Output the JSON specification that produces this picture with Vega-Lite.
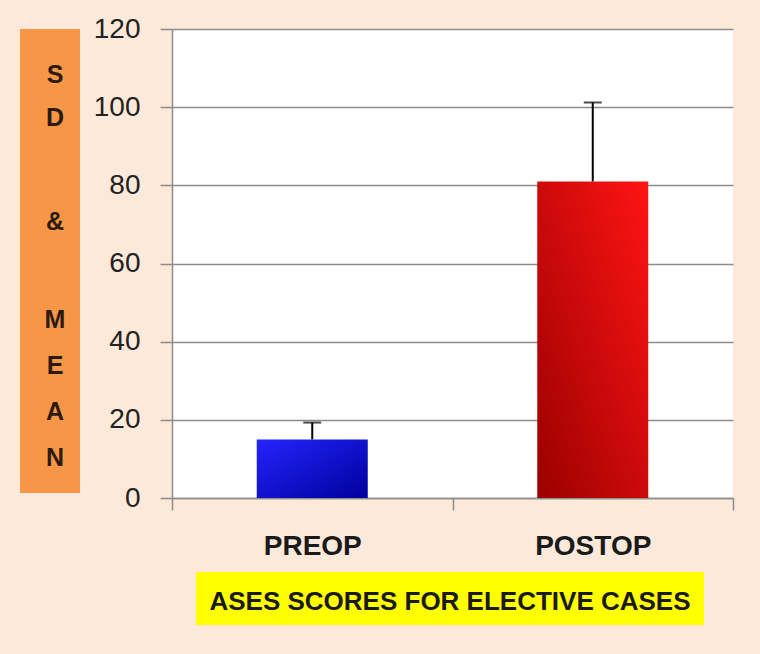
{
  "$schema": "https://vega.github.io/schema/vega-lite/v6.json",
  "background": "#FDE9D9",
  "padding": {"left": 20, "top": 15, "right": 27, "bottom": 29},
  "config": {
    "view": {"stroke": null},
    "font": "Liberation Sans"
  },
  "datasets": {
    "scores": [
      {"group": "PREOP", "mean": 15, "upper": 19.3},
      {"group": "POSTOP", "mean": 81, "upper": 101.2}
    ],
    "ytitle": [
      {"part": "sd", "label": "S\nD"},
      {"part": "amp", "label": "&"},
      {"part": "mean", "label": "M\nE\nA\nN"}
    ],
    "xtitle": [{"label": "ASES SCORES FOR ELECTIVE CASES"}]
  },
  "vconcat": [
    {
      "hconcat": [
        {
          "width": 60,
          "height": 464,
          "view": {"fill": "#F79646", "stroke": null},
          "data": {"name": "ytitle"},
          "encoding": {"text": {"field": "label"}},
          "layer": [
            {
              "transform": [{"filter": "datum.part === 'sd'"}],
              "mark": {"type": "text", "lineBreak": "\n", "lineHeight": 43, "fontSize": 25, "fontWeight": "bold", "color": "#2B1B0E", "dx": 5, "dy": -186}
            },
            {
              "transform": [{"filter": "datum.part === 'amp'"}],
              "mark": {"type": "text", "fontSize": 25, "fontWeight": "bold", "color": "#2B1B0E", "dx": 5, "dy": -39}
            },
            {
              "transform": [{"filter": "datum.part === 'mean'"}],
              "mark": {"type": "text", "lineBreak": "\n", "lineHeight": 46, "fontSize": 25, "fontWeight": "bold", "color": "#2B1B0E", "dx": 5, "dy": 59}
            }
          ]
        },
        {
          "width": 561,
          "height": 469,
          "view": {"fill": "#FFFFFF", "stroke": null},
          "data": {"name": "scores"},
          "encoding": {
            "x": {
              "field": "group", "type": "nominal", "sort": ["PREOP", "POSTOP"],
              "scale": {"paddingInner": 0, "paddingOuter": 0},
              "axis": {
                "title": null, "labelAngle": 0, "labelFontSize": 28, "labelFontWeight": "bold",
                "labelColor": "#1A1A1A", "labelPadding": 22, "tickBand": "extent", "tickSize": 12,
                "tickColor": "#8C8C8C", "tickWidth": 1.5, "domainColor": "#8C8C8C", "domainWidth": 1.5
              }
            }
          },
          "layer": [
            {
              "transform": [{"filter": "datum.group === 'PREOP'"}],
              "mark": {"type": "bar", "size": 111, "color": {"gradient": "linear", "x1": 0, "y1": 0, "x2": 1, "y2": 1, "stops": [{"offset": 0, "color": "#2424FF"}, {"offset": 1, "color": "#00009C"}]}},
              "encoding": {
                "y": {
                  "field": "mean", "type": "quantitative",
                  "scale": {"domain": [0, 120], "nice": false},
                  "axis": {
                    "title": null, "values": [0, 20, 40, 60, 80, 100, 120], "labelFontSize": 28,
                    "labelColor": "#222222", "labelPadding": 20, "tickSize": 12, "tickColor": "#8C8C8C",
                    "tickWidth": 1.5, "domainColor": "#8C8C8C", "domainWidth": 1.5,
                    "gridColor": "#8C8C8C", "gridWidth": 1.5, "labelFlush": false
                  }
                }
              }
            },
            {
              "transform": [{"filter": "datum.group === 'POSTOP'"}],
              "mark": {"type": "bar", "size": 111, "color": {"gradient": "linear", "x1": 0, "y1": 1, "x2": 1, "y2": 0, "stops": [{"offset": 0, "color": "#9A0000"}, {"offset": 1, "color": "#FF1414"}]}},
              "encoding": {"y": {"field": "mean", "type": "quantitative"}}
            },
            {
              "mark": {"type": "rule", "color": "#000000", "strokeWidth": 2},
              "encoding": {"y": {"field": "mean", "type": "quantitative"}, "y2": {"field": "upper"}}
            },
            {
              "mark": {"type": "tick", "color": "#000000", "thickness": 2, "size": 18},
              "encoding": {"y": {"field": "upper", "type": "quantitative"}}
            }
          ]
        }
      ],
      "spacing": 92,
      "bounds": "flush"
    },
    {
      "hconcat": [
        {
          "width": 176,
          "height": 53,
          "data": {"values": []},
          "mark": "point"
        },
        {
          "width": 508,
          "height": 53,
          "view": {"fill": "#FFFF00", "stroke": null},
          "data": {"name": "xtitle"},
          "mark": {"type": "text", "fontSize": 26, "fontWeight": "bold", "color": "#1A1A1A", "dy": 3},
          "encoding": {"text": {"field": "label"}}
        }
      ],
      "spacing": 0,
      "bounds": "flush"
    }
  ],
  "spacing": 12,
  "bounds": "full"
}
